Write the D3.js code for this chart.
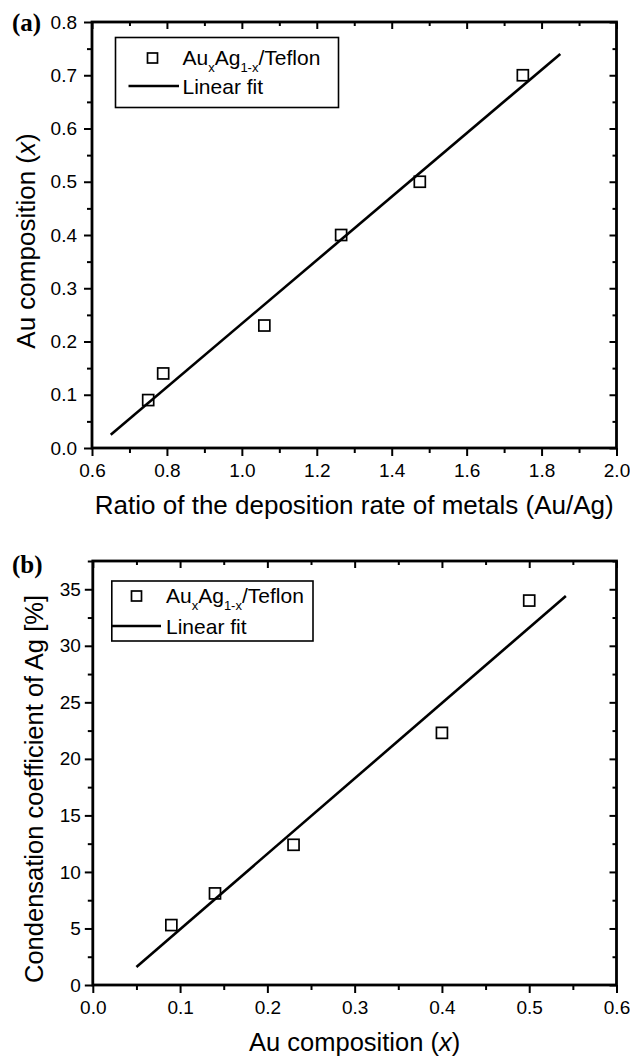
<!DOCTYPE html>
<html>
<head>
<meta charset="utf-8">
<script src="https://cdn.jsdelivr.net/npm/d3@7/dist/d3.min.js"></script>
<style>
  html, body { margin: 0; padding: 0; background: #fff; }
  svg { display: block; }
  text { font-family: "Liberation Sans", Arial, sans-serif; fill: #000; }
</style>
</head>
<body>
<svg id="chart" width="630" height="1060"></svg>
<script>
// ---------- Data ----------
// Panel (a)
const ratioA = [0.75, 0.79, 1.06, 1.265, 1.475, 1.75];      // deposition-rate ratio Au/Ag
const auCompA = [0.09, 0.14, 0.23, 0.40, 0.50, 0.70];       // Au composition x
const fitAx = [0.65, 1.85];
const fitAy = [0.025, 0.740];
const xTicksA = [0.6, 0.8, 1.0, 1.2, 1.4, 1.6, 1.8, 2.0];
const xMinorA = [0.7, 0.9, 1.1, 1.3, 1.5, 1.7, 1.9];
const yTicksA = [0.0, 0.1, 0.2, 0.3, 0.4, 0.5, 0.6, 0.7, 0.8];
const yMinorA = [0.05, 0.15, 0.25, 0.35, 0.45, 0.55, 0.65, 0.75];

// Panel (b)
const auCompB = [0.09, 0.14, 0.23, 0.40, 0.50];             // Au composition x
const condB = [5.3, 8.1, 12.4, 22.3, 34.0];                 // condensation coefficient of Ag [%]
const fitBx = [0.05, 0.542];
const fitBy = [1.6, 34.4];
const xTicksB = [0.0, 0.1, 0.2, 0.3, 0.4, 0.5, 0.6];
const xMinorB = [0.05, 0.15, 0.25, 0.35, 0.45, 0.55];
const yTicksB = [0, 5, 10, 15, 20, 25, 30, 35];
const yMinorB = [2.5, 7.5, 12.5, 17.5, 22.5, 27.5, 32.5, 37.5];

const svg = d3.select("#chart");
svg.append("rect").attr("width", 630).attr("height", 1060).attr("fill", "#fff");

function drawPanel(cfg) {
  const g = svg.append("g");
  const x = d3.scaleLinear().domain(cfg.xDomain).range([cfg.left, cfg.right]);
  const y = d3.scaleLinear().domain(cfg.yDomain).range([cfg.bottom, cfg.top]);

  const styleAxis = sel => {
    sel.select(".domain").remove();
    sel.selectAll(".tick line").attr("stroke", "#000").attr("stroke-width", 2);
    sel.selectAll(".tick text").style("font-size", "19px")
      .style("font-family", '"Liberation Sans", Arial, sans-serif').attr("fill", "#000");
  };

  // bottom axis: outward ticks
  g.append("g").attr("transform", `translate(0,${cfg.bottom})`)
    .call(d3.axisBottom(x).tickValues(cfg.xTicks).tickFormat(d3.format(cfg.xFmt))
      .tickSizeInner(8).tickSizeOuter(0).tickPadding(8))
    .call(styleAxis);
  g.append("g").attr("transform", `translate(0,${cfg.bottom})`)
    .call(d3.axisBottom(x).tickValues(cfg.xMinor).tickFormat("").tickSizeInner(5).tickSizeOuter(0))
    .call(styleAxis);
  // top axis: inward ticks
  g.append("g").attr("transform", `translate(0,${cfg.top})`)
    .call(d3.axisBottom(x).tickValues(cfg.xTicks).tickFormat("").tickSizeInner(7).tickSizeOuter(0))
    .call(styleAxis);
  g.append("g").attr("transform", `translate(0,${cfg.top})`)
    .call(d3.axisBottom(x).tickValues(cfg.xMinor).tickFormat("").tickSizeInner(4).tickSizeOuter(0))
    .call(styleAxis);
  // left axis: outward ticks
  g.append("g").attr("transform", `translate(${cfg.left},0)`)
    .call(d3.axisLeft(y).tickValues(cfg.yTicks).tickFormat(d3.format(cfg.yFmt))
      .tickSizeInner(8).tickSizeOuter(0).tickPadding(cfg.yPad))
    .call(styleAxis);
  g.append("g").attr("transform", `translate(${cfg.left},0)`)
    .call(d3.axisLeft(y).tickValues(cfg.yMinor).tickFormat("").tickSizeInner(5).tickSizeOuter(0))
    .call(styleAxis);
  // right axis: inward ticks
  g.append("g").attr("transform", `translate(${cfg.right},0)`)
    .call(d3.axisLeft(y).tickValues(cfg.yTicks).tickFormat("").tickSizeInner(7).tickSizeOuter(0))
    .call(styleAxis);
  g.append("g").attr("transform", `translate(${cfg.right},0)`)
    .call(d3.axisLeft(y).tickValues(cfg.yMinor).tickFormat("").tickSizeInner(4).tickSizeOuter(0))
    .call(styleAxis);

  // frame
  g.append("rect")
    .attr("x", cfg.left).attr("y", cfg.top)
    .attr("width", cfg.right - cfg.left).attr("height", cfg.bottom - cfg.top)
    .attr("fill", "none").attr("stroke", "#000").attr("stroke-width", 2.8);

  // fit line
  const fitPts = cfg.fitX.map((d, i) => [d, cfg.fitY[i]]);
  g.append("path")
    .attr("d", d3.line().x(d => x(d[0])).y(d => y(d[1]))(fitPts))
    .attr("fill", "none").attr("stroke", "#000").attr("stroke-width", 2.6);

  // markers
  const pts = cfg.xs.map((d, i) => [d, cfg.ys[i]]);
  g.selectAll("rect.pt").data(pts).enter().append("rect").attr("class", "pt")
    .attr("x", d => x(d[0]) - 5.5).attr("y", d => y(d[1]) - 5.5)
    .attr("width", 11).attr("height", 11)
    .attr("fill", "none").attr("stroke", "#000").attr("stroke-width", 1.7);

  // legend
  const L = cfg.legend;
  g.append("rect").attr("x", L.x0).attr("y", L.y0).attr("width", L.x1 - L.x0).attr("height", L.y1 - L.y0)
    .attr("fill", "#fff").attr("stroke", "#000").attr("stroke-width", 1.6);
  g.append("rect").attr("x", L.mx - 5).attr("y", L.row1 - 5).attr("width", 10).attr("height", 10)
    .attr("fill", "none").attr("stroke", "#000").attr("stroke-width", 1.7);
  const t1 = g.append("text").attr("x", L.tx).attr("y", L.row1 + 7).style("font-size", "21px");
  t1.append("tspan").text("Au");
  t1.append("tspan").attr("dy", 7).style("font-size", "13px").text("x");
  t1.append("tspan").attr("dy", -7).text("Ag");
  t1.append("tspan").attr("dy", 7).style("font-size", "13px").text("1-x");
  t1.append("tspan").attr("dy", -7).text("/Teflon");
  g.append("line").attr("x1", L.lx0).attr("x2", L.lx1).attr("y1", L.row2).attr("y2", L.row2)
    .attr("stroke", "#000").attr("stroke-width", 2.6);
  g.append("text").attr("x", L.tx).attr("y", L.row2 + 7.5).style("font-size", "21px").text("Linear fit");

  // axis titles
  const xt = g.append("text").attr("x", (cfg.left + cfg.right) / 2).attr("y", cfg.xTitleY)
    .attr("text-anchor", "middle").style("font-size", cfg.xTitleSize);
  cfg.xTitle(xt);
  const yt = g.append("text")
    .attr("transform", `translate(${cfg.yTitleX},${cfg.yTitleCY}) rotate(-90)`)
    .attr("text-anchor", "middle").style("font-size", cfg.yTitleSize);
  cfg.yTitle(yt);

  // panel label
  g.append("text").attr("x", cfg.labelX).attr("y", cfg.labelY)
    .style("font-family", '"Liberation Serif", "Times New Roman", serif')
    .style("font-weight", "bold").style("font-size", "25px").text(cfg.label);
}

drawPanel({
  left: 92, right: 616.5, top: 22, bottom: 448,
  xDomain: [0.6, 2.0], yDomain: [0, 0.8],
  xTicks: xTicksA, xMinor: xMinorA, yTicks: yTicksA, yMinor: yMinorA,
  xFmt: ".1f", yFmt: ".1f", yPad: 7,
  xs: ratioA, ys: auCompA, fitX: fitAx, fitY: fitAy,
  legend: { x0: 115.5, y0: 37.5, x1: 338.5, y1: 107.5, mx: 152.5, row1: 58, row2: 86,
            lx0: 128.5, lx1: 179, tx: 182.5 },
  xTitleY: 514, xTitleSize: "26px", yTitleSize: "26px",
  xTitle: t => t.text("Ratio of the deposition rate of metals (Au/Ag)"),
  yTitleX: 35, yTitleCY: 241,
  yTitle: t => { t.append("tspan").text("Au composition ("); t.append("tspan").style("font-style", "italic").text("x"); t.append("tspan").text(")"); },
  label: "(a)", labelX: 12, labelY: 31
});

drawPanel({
  left: 92.8, right: 616.5, top: 561, bottom: 985,
  xDomain: [0, 0.6], yDomain: [0, 37.5],
  xTicks: xTicksB, xMinor: xMinorB, yTicks: yTicksB, yMinor: yMinorB,
  xFmt: ".1f", yFmt: "d", yPad: 4,
  xs: auCompB, ys: condB, fitX: fitBx, fitY: fitBy,
  legend: { x0: 111.8, y0: 581, x1: 313, y1: 641, mx: 136.5, row1: 596, row2: 626,
            lx0: 111.8, lx1: 161, tx: 166 },
  xTitleY: 1051, xTitleSize: "25.5px", yTitleSize: "25.5px",
  xTitle: t => { t.append("tspan").text("Au composition ("); t.append("tspan").style("font-style", "italic").text("x"); t.append("tspan").text(")"); },
  yTitleX: 43, yTitleCY: 789,
  yTitle: t => t.text("Condensation coefficient of Ag [%]"),
  label: "(b)", labelX: 12, labelY: 573
});
</script>
</body>
</html>
